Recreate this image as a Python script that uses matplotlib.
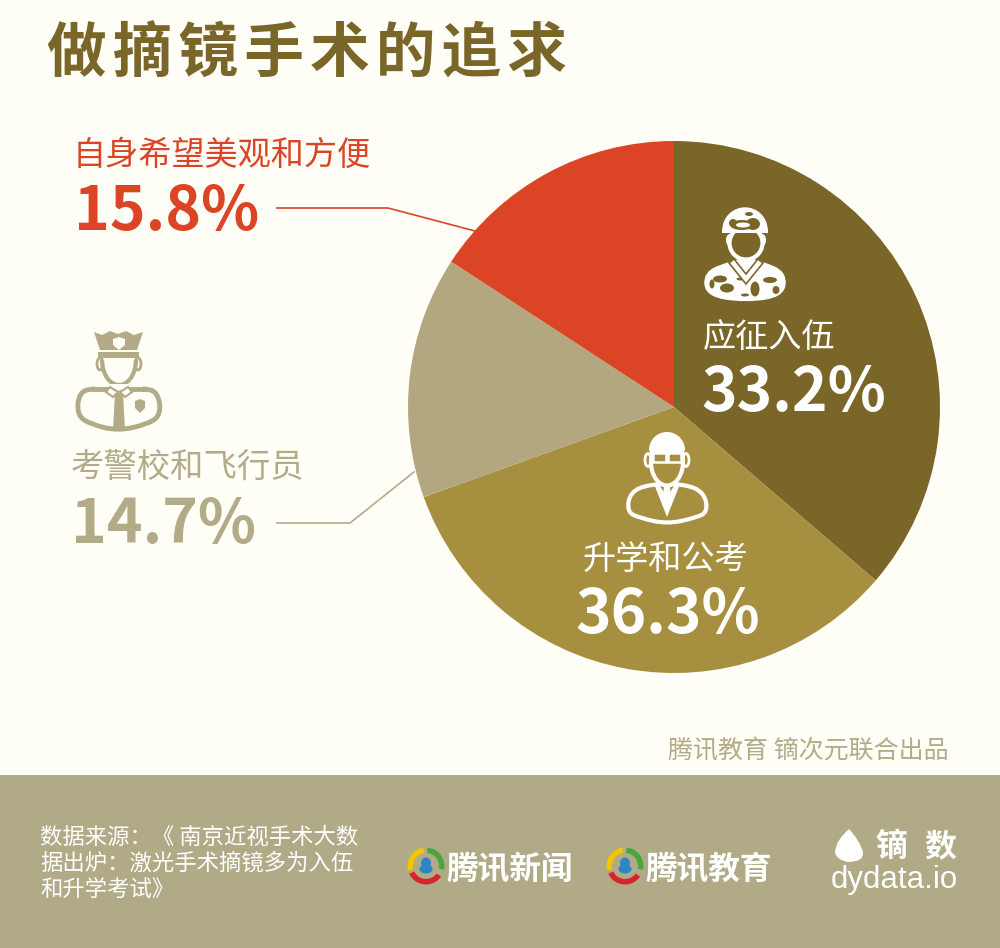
import numpy as np
import matplotlib
matplotlib.use("Agg")
import matplotlib.pyplot as plt
from matplotlib.patches import Circle, Ellipse, Polygon, Rectangle, Wedge, Arc, PathPatch
from matplotlib.path import Path

plt.rcParams['font.family'] = ['Noto Sans CJK SC', 'DejaVu Sans']

# slice sizes follow the picture, where the two big labels are swapped against their areas
slice_shares = [36.3, 33.2, 14.7, 15.8]
slice_colors = ['#7a6629', '#a68f3f', '#b3a780', '#db4526']

title = '做摘镜手术的追求'
label_army = '应征入伍'
label_study = '升学和公考'
label_police = '考警校和飞行员'
label_looks = '自身希望美观和方便'
pct_army = '33.2%'
pct_study = '36.3%'
pct_police = '14.7%'
pct_looks = '15.8%'
credit = '腾讯教育 镝次元联合出品'
source_lines = ['数据来源：《 南京近视手术大数', '据出炉：激光手术摘镜多为入伍', '和升学考试》']

BG = '#fffef7'
BAND = '#b0aa87'
DARK = '#7a6629'
TAN = '#b3ab88'
RED = '#db4526'

fig = plt.figure(figsize=(10, 9.48), dpi=100, facecolor=BG)

# pie, centre (674,407) radius 266 in pixels
pax = fig.add_axes([(674 - 266) / 1000, 1 - (407 + 266) / 948, 532 / 1000, 532 / 948])
pax.pie(slice_shares, colors=slice_colors, startangle=90, counterclock=False, radius=1)
pax.set_xlim(-1, 1)
pax.set_ylim(-1, 1)
pax.axis('off')

# overlay in pixel coordinates for everything else
ax = fig.add_axes([0, 0, 1, 1], zorder=5)
ax.set_xlim(0, 1000)
ax.set_ylim(948, 0)
ax.axis('off')
ax.patch.set_alpha(0)

ax.add_patch(Rectangle((0, 775), 1000, 173, fc=BAND, ec='none'))


def pct(x, y, s, col, ha='left'):
    ax.text(x, y, s, fontsize=43.6, fontweight='bold', color=col, va='baseline', ha=ha)


ax.text(47, 56, '\u200a'.join(title), fontsize=43, fontweight='bold', color=DARK, va='center', ha='left')

ax.text(73, 155, label_looks, fontsize=23.9, color=RED, va='center', ha='left')
pct(74, 230, pct_looks, RED)
ax.plot([277, 388, 475], [208, 208, 231], color=RED, lw=1.2)

ax.text(71, 467, label_police, fontsize=24, color=TAN, va='center', ha='left')
pct(71, 543, pct_police, TAN)
ax.plot([277, 350, 414], [523, 523, 472], color=TAN, lw=1.2)

ax.text(769, 337, label_army, fontsize=23.9, color='white', va='center', ha='center')
pct(794, 411, pct_army, 'white', 'center')
ax.text(666, 560, label_study, fontsize=23.9, color='white', va='center', ha='center')
pct(668, 633, pct_study, 'white', 'center')

ax.text(949, 751, credit, fontsize=18, color=TAN, va='center', ha='right')

for yy, line in zip([837, 863, 889], source_lines):
    ax.text(40, yy, line, fontsize=16.1, color='white', va='center', ha='left')


def blob(x, y, w, h, col, z=6):
    ax.add_patch(Ellipse((x, y), w, h, fc=col, ec='none', zorder=z))


def smooth(pts, col, bg=None, lw=3, z=6):
    # closed outline through the points, rounded with quadratic segments
    codes = [Path.MOVETO]
    verts = [((pts[-1][0] + pts[0][0]) / 2, (pts[-1][1] + pts[0][1]) / 2)]
    for i, p in enumerate(pts):
        q = pts[(i + 1) % len(pts)]
        verts += [p, ((p[0] + q[0]) / 2, (p[1] + q[1]) / 2)]
        codes += [Path.CURVE3, Path.CURVE3]
    ax.add_patch(PathPatch(Path(verts, codes), fc=bg if bg else col, ec=col, lw=lw, zorder=z))


# soldier icon
def soldier(col, bg):
    smooth([(706, 296), (704, 272), (730, 262), (746, 258), (762, 262), (786, 272), (784, 296), (746, 302)], col, lw=1)
    for x, y, w, h in [(720, 279, 14, 7), (727, 288, 14, 9), (712, 284, 5, 9), (755, 289, 9, 15),
                       (770, 280, 14, 6), (776, 290, 7, 8), (745, 295, 8, 3), (740, 279, 7, 3)]:
        blob(x, y, w, h, bg, 7)
    ax.add_patch(Polygon([(734, 259), (746, 274), (758, 259), (763, 263), (746, 284), (729, 263)],
                         fc=col, ec=bg, lw=1.2, zorder=8))
    ax.add_patch(Ellipse((746, 243), 33, 33, fc=bg, ec=col, lw=3, zorder=8))
    ax.add_patch(Ellipse((730, 240), 6, 10, fc=bg, ec=col, lw=1.5, zorder=7))
    ax.add_patch(Ellipse((762, 240), 6, 10, fc=bg, ec=col, lw=1.5, zorder=7))
    ax.add_patch(Wedge((745, 230), 22, 180, 360, fc=col, ec=col, lw=1, zorder=9))
    ax.add_patch(Rectangle((722, 229), 46, 4, fc=col, ec='none', zorder=10))
    blob(742, 225, 24, 10, bg, 10)
    blob(753, 224, 14, 12, bg, 10)
    blob(733, 223, 8, 8, bg, 10)
    blob(743, 225, 14, 5, col, 11)
    blob(749, 214, 8, 4, bg, 10)


soldier('white', slice_colors[0])


# police icon
def police(col, bg):
    ax.add_patch(Polygon([(94, 332), (102, 335), (110, 331), (118, 334), (126, 331), (134, 335), (143, 332),
                          (137, 350), (100, 350)], fc=col, ec='none', zorder=6))
    ax.add_patch(Rectangle((98, 352), 41, 6, fc=col, ec='none', zorder=6))
    ax.add_patch(Polygon([(113, 339), (119, 337), (125, 339), (125, 345), (119, 350), (113, 345)], fc=bg, ec='none', zorder=7))
    # face
    ax.add_patch(Arc((119, 360), 34, 50, theta1=0, theta2=180, color=col, lw=3, zorder=6))
    ax.add_patch(Ellipse((100, 364), 6, 12, fc=bg, ec=col, lw=2, zorder=5))
    ax.add_patch(Ellipse((138, 364), 6, 12, fc=bg, ec=col, lw=2, zorder=5))
    # shoulders
    smooth([(95, 388), (79, 392), (77, 415), (90, 424), (118, 431), (148, 424), (161, 415), (158, 392), (143, 388)],
           col, bg, lw=3.5)
    ax.add_patch(Rectangle((95, 384), 48, 6, fc=bg, ec='none', zorder=6.5))
    ax.plot([94, 107], [389, 389], color=col, lw=3.5, zorder=7)
    ax.plot([131, 144], [389, 389], color=col, lw=3.5, zorder=7)
    ax.add_patch(Polygon([(115, 393), (123, 393), (125, 430), (113, 430)], fc=col, ec='none', zorder=7))
    ax.add_patch(Polygon([(110, 387), (118, 392), (113, 397), (106, 392)], fc=bg, ec=col, lw=1.5, zorder=8))
    ax.add_patch(Polygon([(128, 387), (120, 392), (125, 397), (132, 392)], fc=bg, ec=col, lw=1.5, zorder=8))
    ax.add_patch(Polygon([(135, 401), (140, 399), (145, 401), (145, 408), (140, 413), (135, 408)], fc=col, ec='none', zorder=7))


police(TAN, BG)


# student / official icon
def official(col, bg):
    smooth([(650, 484), (630, 492), (627, 512), (640, 518), (667, 524), (695, 518), (708, 512), (704, 492), (684, 484)],
           col, bg, lw=3, z=6)
    ax.add_patch(Polygon([(654, 484), (667, 517), (680, 484), (676, 483), (667, 497), (658, 483)], fc=col, ec='none', zorder=7))
    ax.add_patch(Polygon([(664, 487), (670, 487), (672, 504), (667, 510), (662, 504)], fc=col, ec='none', zorder=8))
    ax.add_patch(Ellipse((667, 462), 32, 47, fc=bg, ec=col, lw=3, zorder=8))
    ax.add_patch(Ellipse((648, 460), 6, 13, fc=bg, ec=col, lw=2, zorder=7))
    ax.add_patch(Ellipse((686, 460), 6, 13, fc=bg, ec=col, lw=2, zorder=7))
    ax.add_patch(Wedge((667, 450), 18, 180, 360, fc=col, ec='none', zorder=9))
    ax.add_patch(Polygon([(649, 449), (685, 449), (684, 453), (650, 453)], fc=col, ec='none', zorder=9))
    ax.add_patch(Rectangle((653, 453), 13, 9, fc=bg, ec=col, lw=1.8, zorder=10))
    ax.add_patch(Rectangle((668, 453), 13, 9, fc=bg, ec=col, lw=1.8, zorder=10))


official('white', slice_colors[1])


# tencent logo ring with blue penguin; the y axis is inverted so the angles run clockwise
def qq_logo(cx, cy):
    r = 18.5
    ax.add_patch(Wedge((cx, cy), r, 165, 262, width=5.5, fc='#f2c500', ec='none', zorder=6))
    ax.add_patch(Wedge((cx, cy), r, 275, 12, width=5.5, fc='#4aa63c', ec='none', zorder=6))
    ax.add_patch(Wedge((cx, cy), r, 35, 155, width=5.5, fc='#d8242a', ec='none', zorder=6))
    blob(cx, cy - 3, 10, 11, '#2b86c8', 7)
    blob(cx, cy + 3, 13, 9, '#2b86c8', 7)


qq_logo(426, 866)
qq_logo(625, 866)
ax.text(446, 869, '腾讯新闻', fontsize=22.8, fontweight='bold', color='white', va='center', ha='left')
ax.text(645, 869, '腾讯教育', fontsize=22.8, fontweight='bold', color='white', va='center', ha='left')

# dydata leaf mark, pointed at the top
leaf = Path([(849, 829), (836, 840), (835, 852), (836, 860), (848, 862), (864, 862), (863, 852), (860, 841), (849, 829)],
            [Path.MOVETO, Path.CURVE3, Path.CURVE3, Path.CURVE3, Path.CURVE3, Path.CURVE3, Path.CURVE3, Path.CURVE3, Path.CURVE3])
ax.add_patch(PathPatch(leaf, fc='white', ec='none', zorder=6))
ax.text(891, 847, '镝', fontsize=23, fontweight='bold', color='white', va='center', ha='center')
ax.text(940, 847, '数', fontsize=23, fontweight='bold', color='white', va='center', ha='center')
ax.text(894, 880, 'dydata.io', fontsize=22.5, color='white', family='Liberation Sans', va='center', ha='center')

fig.savefig('out.png', dpi=100, facecolor=BG)
